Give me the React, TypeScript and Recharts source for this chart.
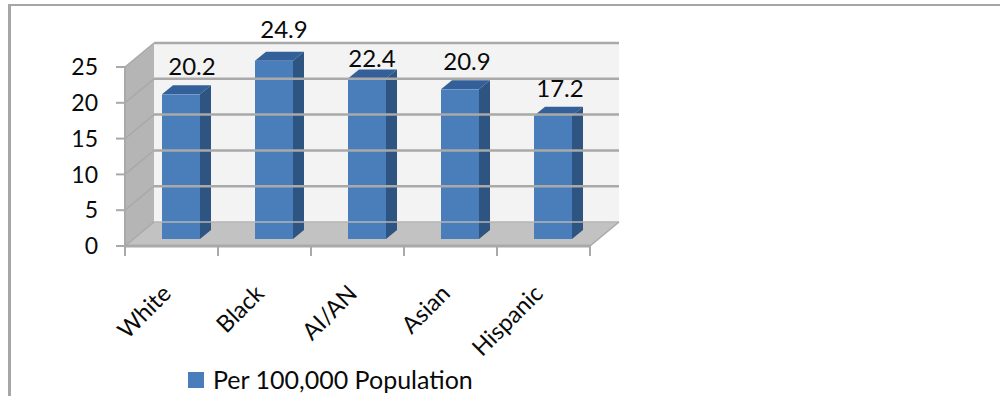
import { Bar, BarChart, LabelList, Legend, ReferenceArea, ReferenceLine, XAxis, YAxis } from "recharts";

const categories = ["White", "Black", "AI/AN", "Asian", "Hispanic"];
const rates = [20.2, 24.9, 22.4, 20.9, 17.2];
const yTicks = [0, 5, 10, 15, 20, 25];

const rows = categories.map((name, i) => ({ name, rate: rates[i] }));

// hand placement of the value labels, per column
const labelShiftX = [20, 19, 14, 16, 16];
const labelLift = [10, 14, 3, 10, 10];

// depth of the fake 3D box, and how far the bars sit inside it
const DEPTH_X = 29;
const DEPTH_Y = 24;
const BAR_DX = 9;
const BAR_DY = 7;
const BAR_SIDE_X = 11;
const BAR_SIDE_Y = 9;
const BAND = 93;

const FONT = "Lato, 'Open Sans', sans-serif";
const GRID = "#a9a9a9";
const INK = "#0a0a0a";

function Box({ x, y, width, height }: any) {
  const bottom = y + height;
  return (
    <g>
      <polygon
        points={`${x},${y} ${x + DEPTH_X},${y - DEPTH_Y} ${x + DEPTH_X},${bottom - DEPTH_Y} ${x},${bottom}`}
        fill="#b5b5b5"
      />
      <rect x={x + DEPTH_X} y={y - DEPTH_Y} width={width} height={height} fill="#f3f3f3" />
      <polygon
        points={`${x},${bottom} ${x + DEPTH_X},${bottom - DEPTH_Y} ${x + width + DEPTH_X},${bottom - DEPTH_Y} ${x + width},${bottom}`}
        fill="#c2c2c2"
      />
    </g>
  );
}

function GridLine({ x1, y1, x2, y2 }: any) {
  const isFloor = Math.abs(y1 - 246) < 1;
  return (
    <g stroke={GRID} strokeWidth={2.5} fill="none">
      <line x1={x1} y1={y1} x2={x1 + DEPTH_X} y2={y2 - DEPTH_Y} strokeWidth={1.5} />
      <line
        x1={x1 + DEPTH_X}
        y1={y1 - DEPTH_Y}
        x2={x2 + DEPTH_X}
        y2={y2 - DEPTH_Y}
        stroke={isFloor ? "#b4b4b4" : GRID}
        strokeWidth={isFloor ? 1.5 : 2.5}
      />
      {isFloor && <line x1={x2} y1={y2} x2={x2 + DEPTH_X} y2={y2 - DEPTH_Y} strokeWidth={1.5} />}
    </g>
  );
}

function Column({ x, y, width, height }: any) {
  const left = x + BAR_DX;
  const top = y - BAR_DY;
  const right = left + width;
  const bottom = top + height;
  return (
    <g>
      <polygon
        points={`${left},${top} ${left + BAR_SIDE_X},${top - BAR_SIDE_Y} ${right + BAR_SIDE_X},${top - BAR_SIDE_Y} ${right},${top}`}
        fill="#34609a"
      />
      <polygon
        points={`${right},${top} ${right + BAR_SIDE_X},${top - BAR_SIDE_Y} ${right + BAR_SIDE_X},${bottom - BAR_SIDE_Y} ${right},${bottom}`}
        fill="#2e5482"
      />
      <rect x={left} y={top} width={width} height={height} fill="#4a7ebb" />
    </g>
  );
}

function ValueLabel({ x, y, width, value, index }: any) {
  return (
    <text
      x={x + width / 2 + labelShiftX[index]}
      y={y - BAR_DY - BAR_SIDE_Y - labelLift[index]}
      textAnchor="middle"
      fontFamily={FONT}
      fontSize={24}
      fill={INK}
    >
      {value}
    </text>
  );
}

// tick marks sit on the band edges, the rotated text ends at the band centre
function CategoryTick({ x, y, payload, index }: any) {
  const edge = x - BAND / 2;
  const axisY = y - 8;
  const endX = x + 1;
  const endY = y + 41;
  return (
    <g>
      <line x1={edge} y1={axisY} x2={edge} y2={axisY + 10} stroke={GRID} strokeWidth={2} />
      {index === categories.length - 1 && (
        <line x1={edge + BAND} y1={axisY} x2={edge + BAND} y2={axisY + 10} stroke={GRID} strokeWidth={2} />
      )}
      <text
        x={endX}
        y={endY}
        textAnchor="end"
        transform={`rotate(-45 ${endX} ${endY})`}
        fontFamily={FONT}
        fontSize={23.5}
        fill={INK}
      >
        {payload.value}
      </text>
    </g>
  );
}

export default function App() {
  return (
    <div style={{ position: "absolute", left: 0, top: 0, width: 1000, height: 396, overflow: "hidden", background: "#fff" }}>
      <div
        style={{
          position: "absolute",
          left: 8,
          top: 4,
          width: 1100,
          height: 400,
          borderLeft: "3px solid #a6a6a6",
          borderTop: "2.5px solid #a6a6a6",
        }}
      />
      <BarChart
        width={1000}
        height={396}
        data={rows}
        barSize={38}
        margin={{ top: 67, right: 410, bottom: 0, left: 0 }}
      >
        <XAxis
          dataKey="name"
          height={126}
          interval={0}
          tick={<CategoryTick />}
          tickSize={0}
          tickMargin={8}
          axisLine={{ stroke: GRID, strokeWidth: 3 }}
          tickLine={false}
        />
        <YAxis
          width={125}
          domain={[0, 25]}
          ticks={yTicks}
          tickSize={9}
          tickMargin={18}
          tick={{ fontFamily: FONT, fontSize: 23, fill: INK }}
          axisLine={{ stroke: GRID, strokeWidth: 2 }}
          tickLine={{ stroke: GRID, strokeWidth: 2 }}
        />
        <ReferenceArea y1={0} y2={25} shape={<Box />} ifOverflow="visible" />
        {yTicks.map((tick) => (
          <ReferenceLine key={tick} y={tick} shape={<GridLine />} ifOverflow="visible" />
        ))}
        <Bar dataKey="rate" name="Per 100,000 Population" shape={<Column />} fill="#4a7ebb" isAnimationActive={false}>
          <LabelList dataKey="rate" content={<ValueLabel />} />
        </Bar>
        <Legend
          iconType="square"
          iconSize={16}
          align="left"
          verticalAlign="bottom"
          wrapperStyle={{ left: 188, bottom: 13, width: 340, height: 24 }}
          formatter={(label: string) => (
            <span style={{ color: INK, fontFamily: FONT, fontSize: 25, marginLeft: 5, position: "relative", top: 5 }}>{label}</span>
          )}
        />
      </BarChart>
    </div>
  );
}
